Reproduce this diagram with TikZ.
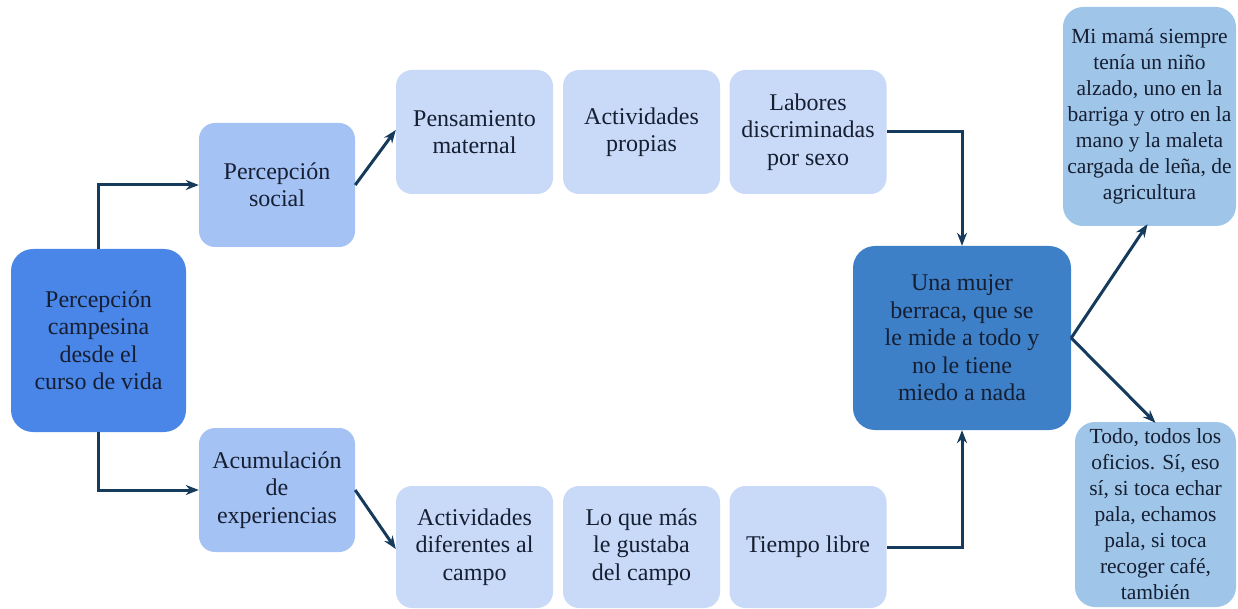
\documentclass[tikz,border=0pt]{standalone}
\usepackage{fontspec}
\setmainfont{Liberation Serif}
\newfontfamily\timesx{Liberation Serif}
\usetikzlibrary{arrows.meta}
\definecolor{rootc}{RGB}{74,134,232}
\definecolor{lvtwo}{RGB}{164,194,244}
\definecolor{lvthree}{RGB}{201,218,248}
\definecolor{centc}{RGB}{61,128,200}
\definecolor{sidec}{RGB}{159,197,232}
\definecolor{arrc}{RGB}{22,58,92}
\definecolor{txtc}{RGB}{22,30,50}
\tikzset{
  box/.style={rounded corners=16pt, align=center, text=txtc, inner sep=2pt,
    font=\timesx\fontsize{24}{27.5}\selectfont},
  rootbox/.style={box, fill=rootc, minimum width=175pt, minimum height=183pt, rounded corners=22pt},
  twobox/.style={box, fill=lvtwo, minimum width=156pt, minimum height=124pt},
  threebox/.style={box, fill=lvthree, minimum width=157pt, minimum height=124pt},
  centbox/.style={box, fill=centc, minimum width=218pt, minimum height=184pt, rounded corners=22pt},
  sidebox/.style={box, fill=sidec, rounded corners=20pt, font=\timesx\fontsize{21.5}{26}\selectfont},
  conn/.style={draw=arrc, line width=3pt, -{Stealth[length=13pt,width=10pt]}}
}
\begin{document}
\begin{tikzpicture}[x=1pt,y=-1pt]
\useasboundingbox (0,0) rectangle (1238,609);
\node[rootbox] (root) at (98.5,340.5) {Percepción\\campesina\\desde el\\curso de vida};
\node[twobox] (soc) at (277,185) {Percepción\\social};
\node[twobox] (acu) at (277,490) {Acumulación\\de\\experiencias};
\node[threebox] (pen) at (474.5,132) {Pensamiento\\maternal};
\node[threebox] (act) at (641.5,132) {Actividades\\propias};
\node[threebox] (lab) at (808,132) {Labores\\discriminadas\\por sexo};
\node[threebox, minimum height=122pt] (dif) at (474.5,547) {Actividades\\diferentes al\\campo};
\node[threebox, minimum height=122pt] (gus) at (641.5,547) {Lo que más\\le gustaba\\del campo};
\node[threebox, minimum height=122pt] (tie) at (808,547) {Tiempo libre};
\node[centbox] (muj) at (962,338) {Una mujer\\berraca, que se\\le mide a todo y\\no le tiene\\miedo a nada};
\node[sidebox, minimum width=173pt, minimum height=219pt] (mam) at (1149.5,116.5) {Mi mamá siempre\\tenía un niño\\alzado, uno en la\\barriga y otro en la\\mano y la maleta\\cargada de leña, de\\agricultura};
\node[sidebox, minimum width=161pt, minimum height=185pt] (tod) at (1155.5,514.5) {Todo, todos los\\oficios. Sí, eso\\sí, si toca echar\\pala, echamos\\pala, si toca\\recoger café,\\también};
\draw[conn] (root.north) |- (soc.west);
\draw[conn] (root.south) |- (acu.west);
\draw[conn] (soc.east) -- ([yshift=2pt]pen.west);
\draw[conn] (acu.east) -- ([yshift=-2pt]dif.west);
\draw[conn] (lab.east) -| (muj.north);
\draw[conn] (tie.east) -| (muj.south);
\draw[conn] (muj.east) -- ([xshift=-2pt,yshift=2pt]mam.south);
\draw[conn] (muj.east) -- ([yshift=-1pt]tod.north);
\end{tikzpicture}
\end{document}
